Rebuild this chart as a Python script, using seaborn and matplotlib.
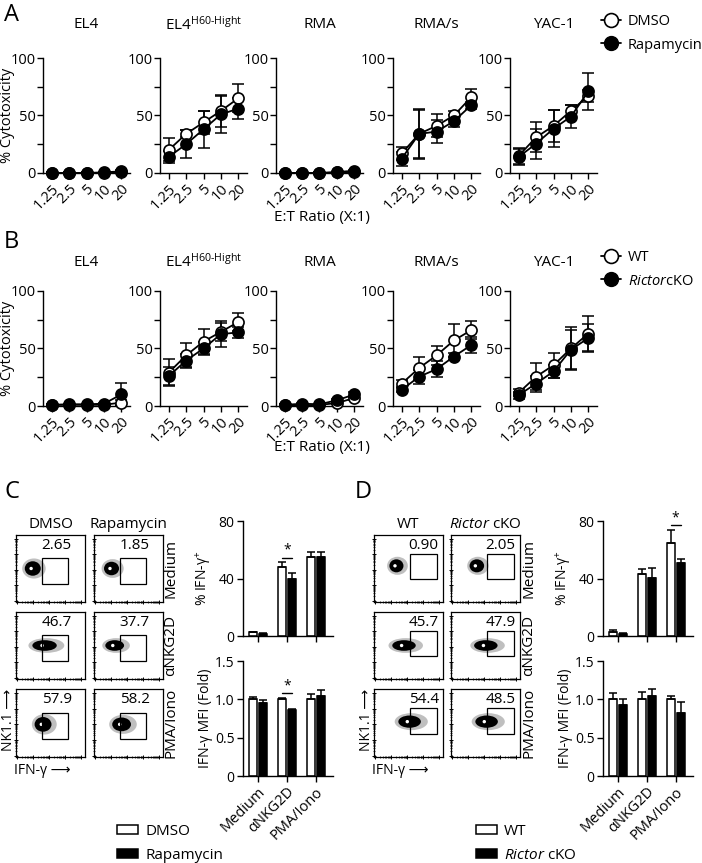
import numpy as np
import pandas as pd
import matplotlib
matplotlib.use("Agg")
import matplotlib.pyplot as plt
import seaborn as sns
from matplotlib.patches import Rectangle, Ellipse, Patch
from matplotlib.lines import Line2D

# ---------------- data ----------------
ratios = ["1.25", "2.5", "5", "10", "20"]
targets = ["EL4", r"EL4$^{\text{H60-Hight}}$", "RMA", "RMA/s", "YAC-1"]

# Panel A (DMSO open, Rapamycin filled); rows follow `targets`
a_dmso_mean = [[0, 0, 0, 0.3, 1], [20, 34, 44, 54, 65], [0, 0, 0, 0.5, 1],
               [17, 34, 41, 50, 66], [15, 31, 41, 54, 67]]
a_dmso_err = [[0.5, 0.5, 0.5, 0.5, 1], [10, 3, 10, 14, 12], [0.5, 0.5, 0.5, 0.5, 0.5],
              [6, 22, 10, 4, 7], [7, 13, 14, 5, 5]]
a_rapa_mean = [[0, 0, 0, 0.5, 1.5], [14, 25, 38, 51, 56], [0, 0, 0, 0.8, 2],
               [12.5, 34, 36, 45, 59], [14, 25.5, 38.5, 49, 71]]
a_rapa_err = [[0.5, 0.5, 0.5, 0.5, 1], [5, 12, 16, 16, 9], [0.5, 0.5, 0.5, 0.5, 1],
              [6, 21, 10, 5, 3], [7, 13, 16, 10, 16]]

# Panel B (WT open, Rictor cKO filled)
b_wt_mean = [[1, 1, 1, 1, 3], [29, 44, 56, 64.5, 73], [1, 0.5, 1, 2.5, 7],
             [19.5, 33, 44, 57, 66], [11.5, 25.5, 35.5, 50, 63]]
b_wt_err = [[0.5, 0.5, 0.5, 0.5, 2], [12, 11, 11, 8, 8], [0.5, 0.5, 0.5, 1, 2],
            [3, 10, 8, 14, 8], [3, 12, 11, 19, 15]]
b_ko_mean = [[1, 1.5, 1.5, 2, 10], [26, 39.5, 50, 62.5, 64], [1, 2, 1.5, 5, 10],
             [14, 25.5, 32, 43, 53], [9.5, 19.5, 30, 49, 59]]
b_ko_err = [[0.5, 0.5, 0.5, 0.5, 10], [8, 6, 6, 11, 5], [0.5, 0.5, 0.5, 1, 2],
            [2, 6, 7, 3, 7], [3, 7, 6, 17, 12]]

# Bar charts
stims = ["Medium", "αNKG2D", "PMA/Iono"]
c_ifng_dmso = [2.8, 48, 55]
c_ifng_dmso_err = [0.3, 3.5, 3.4]
c_ifng_rapa = [1.6, 39.7, 55]
c_ifng_rapa_err = [0.3, 4.1, 3.4]
c_mfi_dmso = [1.0, 1.0, 1.0]
c_mfi_dmso_err = [0.03, 0.02, 0.07]
c_mfi_rapa = [0.95, 0.86, 1.04]
c_mfi_rapa_err = [0.04, 0.01, 0.08]
d_ifng_wt = [2.5, 43, 64.7]
d_ifng_wt_err = [1.5, 3.6, 9]
d_ifng_ko = [1.5, 40.3, 50.8]
d_ifng_ko_err = [0.5, 6.7, 2.8]
d_mfi_wt = [1.0, 1.0, 1.0]
d_mfi_wt_err = [0.08, 0.1, 0.04]
d_mfi_ko = [0.93, 1.04, 0.82]
d_mfi_ko_err = [0.08, 0.1, 0.14]
# significance: (category index, bracket height)
c_ifng_star = (1, 54.5)
c_mfi_star = (1, 1.08)
d_ifng_star = (2, 77)

# Flow cytometry gate percentages (rows: stims, cols: groups)
c_flow_pct = [["2.65", "1.85"], ["46.7", "37.7"], ["57.9", "58.2"]]
d_flow_pct = [["0.90", "2.05"], ["45.7", "47.9"], ["54.4", "48.5"]]
# population centre / size (fraction of plot)
c_blob_x = [[0.26, 0.27], [0.44, 0.32], [0.41, 0.42]]
c_blob_y = [[0.50, 0.50], [0.50, 0.50], [0.48, 0.48]]
c_blob_w = [[0.34, 0.32], [0.52, 0.40], [0.36, 0.40]]
c_blob_h = [[0.30, 0.28], [0.22, 0.22], [0.30, 0.28]]
d_blob_x = [[0.34, 0.39], [0.46, 0.53], [0.54, 0.54]]
d_blob_y = [[0.54, 0.54], [0.50, 0.50], [0.52, 0.52]]
d_blob_w = [[0.30, 0.31], [0.50, 0.50], [0.48, 0.48]]
d_blob_h = [[0.27, 0.27], [0.22, 0.22], [0.25, 0.25]]
c_gate = (0.37, 0.27, 0.39, 0.38)   # x, y, w, h
d_gate = (0.52, 0.34, 0.40, 0.38)

# ---------------- style ----------------
sns.set_style("ticks")
plt.rcParams["font.family"] = ["Open Sans", "DejaVu Sans"]
plt.rcParams.update({
    "mathtext.fontset": "custom",
    "mathtext.rm": "Open Sans",
    "mathtext.it": "Open Sans:italic",
    "mathtext.bf": "Open Sans:bold",
    "mathtext.sf": "Open Sans",
    "font.size": 11,
    "axes.linewidth": 1.0,
    "axes.edgecolor": "black",
    "xtick.major.width": 1.0,
    "ytick.major.width": 1.0,
    "xtick.minor.width": 1.0,
    "ytick.minor.width": 1.0,
    "xtick.major.size": 4,
    "ytick.major.size": 4,
    "ytick.minor.size": 4,
    "xtick.labelsize": 10.5,
    "ytick.labelsize": 10.5,
    "xtick.color": "black",
    "ytick.color": "black",
    "text.color": "black",
    "axes.labelcolor": "black",
})

W, H = 702, 863
fig = plt.figure(figsize=(W / 100, H / 100), dpi=100)


def add_ax(x0, y0, x1, y1):
    return fig.add_axes([x0 / W, 1 - y1 / H, (x1 - x0) / W, (y1 - y0) / H])


def ftext(x, y, s, **kw):
    return fig.text(x / W, 1 - y / H, s, **kw)


# ---------------- panels A & B ----------------
line_x0 = [43, 160, 276, 393, 510]
line_w = 87


def line_row(top, bottom, title_y, xlab_y, m_open, e_open, m_fill, e_fill):
    pos = np.arange(len(ratios))
    for i, t in enumerate(targets):
        x0 = line_x0[i]
        ax = add_ax(x0, top, x0 + line_w, bottom)
        for mean, err, face in [(m_open[i], e_open[i], "white"), (m_fill[i], e_fill[i], "black")]:
            ax.errorbar(pos, mean, yerr=err, fmt="none", ecolor="black", elinewidth=1.1,
                        capsize=4.5, capthick=1.1, clip_on=False, zorder=2)
            sns.lineplot(x=pos, y=mean, ax=ax, color="black", lw=1.3, marker="o", markersize=8,
                         markerfacecolor=face, markeredgecolor="black", markeredgewidth=1.2,
                         errorbar=None, clip_on=False, zorder=3)
        ax.set_xlim(-0.5, 4.5)
        ax.set_ylim(0, 100)
        ax.set_yticks([0, 50, 100])
        ax.set_yticks([25, 75], minor=True)
        ax.tick_params(axis="y", which="minor", length=4)
        ax.set_xticks(pos)
        ax.set_xticklabels(ratios, rotation=45, ha="right", rotation_mode="anchor")
        ax.tick_params(axis="both", pad=2)
        ax.tick_params(axis="y", pad=1)
        sns.despine(ax=ax)
        ax.set_xlabel("")
        if i == 0:
            ax.set_ylabel("% Cytotoxicity", fontsize=10.5)
            ax.yaxis.set_label_coords((15 - x0) / line_w, 0.5)
        else:
            ax.set_ylabel("")
        ftext(x0 + line_w / 2, title_y, t, ha="center", va="center", fontsize=11)
    ftext(322, xlab_y, "E:T Ratio (X:1)", ha="center", va="center", fontsize=11)


line_row(58, 173, 25, 217, a_dmso_mean, a_dmso_err, a_rapa_mean, a_rapa_err)
line_row(291, 406, 262, 447, b_wt_mean, b_wt_err, b_ko_mean, b_ko_err)


def line_legend(y_center, labels):
    h_open = Line2D([], [], color="black", lw=1.3, marker="o", markersize=10,
                    markerfacecolor="white", markeredgecolor="black", markeredgewidth=1.2)
    h_fill = Line2D([], [], color="black", lw=1.3, marker="o", markersize=10,
                    markerfacecolor="black", markeredgecolor="black")
    fig.legend([h_open, h_fill], labels, loc="center left",
               bbox_to_anchor=(601 / W, 1 - y_center / H), frameon=False,
               handlelength=1.35, handletextpad=0.5, labelspacing=0.55,
               borderpad=0, borderaxespad=0, fontsize=10.5)


line_legend(33.5, ["DMSO", "Rapamycin"])
line_legend(269.5, ["WT", r"$\mathit{Rictor}$cKO"])

# ---------------- panels C & D: bar charts ----------------


def bar_chart(x0, y0, x1, y1, va, ea, vb, eb, names, ylim, yticks, yticklabels, ylabel,
              xlabels, star):
    ax = add_ax(x0, y0, x1, y1)
    df = pd.DataFrame({"stim": stims * 2,
                       "group": [names[0]] * 3 + [names[1]] * 3,
                       "val": va + vb})
    sns.barplot(data=df, x="stim", y="val", hue="group", hue_order=names,
                palette=["white", "black"], saturation=1, edgecolor="black",
                linewidth=1.1, width=0.68, gap=0.18, errorbar=None, legend=False, ax=ax)
    centers = {}
    for p in ax.patches:
        cx = p.get_x() + p.get_width() / 2
        h = p.get_height()
        ci = int(round(cx))
        g = 0 if cx < ci else 1
        e = [ea, eb][g][ci]
        centers[(ci, g)] = cx
        ax.errorbar([cx], [h], yerr=[[0], [e]], fmt="none", ecolor="black",
                    elinewidth=1.1, capsize=2.6, capthick=1.1, zorder=1)
    ax.set_ylim(*ylim)
    ax.set_xlim(-0.52, 2.6)
    ax.set_yticks(yticks)
    ax.set_yticklabels(yticklabels)
    ax.set_xticks(range(len(stims)))
    if xlabels:
        ax.set_xticklabels(stims, rotation=45, ha="right", rotation_mode="anchor")
    else:
        ax.set_xticklabels([])
    ax.tick_params(axis="both", pad=2)
    ax.tick_params(axis="y", labelsize=10)
    ax.set_xlabel("")
    ax.set_ylabel(ylabel, fontsize=10)
    ax.yaxis.set_label_coords(-30 / (x1 - x0), 0.5)
    sns.despine(ax=ax)
    if star is not None:
        ci, yb = star
        xa, xb = centers[(ci, 0)], centers[(ci, 1)]
        ax.plot([xa, xb], [yb, yb], color="black", lw=1.0)
        ax.text((xa + xb) / 2, yb, "*", ha="center", va="bottom", fontsize=10)
    return ax


bar_chart(243, 521, 333, 636, c_ifng_dmso, c_ifng_dmso_err, c_ifng_rapa, c_ifng_rapa_err,
          ["DMSO", "Rapamycin"], (0, 80), [0, 40, 80], ["0", "40", "80"],
          r"% IFN-γ$^{+}$", False, c_ifng_star)
bar_chart(243, 661, 333, 776, c_mfi_dmso, c_mfi_dmso_err, c_mfi_rapa, c_mfi_rapa_err,
          ["DMSO", "Rapamycin"], (0, 1.5), [0, 0.5, 1.0, 1.5], ["0", "0.5", "1.0", "1.5"],
          "IFN-γ MFI (Fold)", True, c_mfi_star)
bar_chart(603, 521, 693, 636, d_ifng_wt, d_ifng_wt_err, d_ifng_ko, d_ifng_ko_err,
          ["WT", "Rictor cKO"], (0, 80), [0, 40, 80], ["0", "40", "80"],
          r"% IFN-γ$^{+}$", False, d_ifng_star)
bar_chart(603, 661, 693, 776, d_mfi_wt, d_mfi_wt_err, d_mfi_ko, d_mfi_ko_err,
          ["WT", "Rictor cKO"], (0, 1.5), [0, 0.5, 1.0, 1.5], ["0", "0.5", "1.0", "1.5"],
          "IFN-γ MFI (Fold)", True, None)


def bar_legend(x, labels):
    handles = [Patch(facecolor="white", edgecolor="black", lw=1.1),
               Patch(facecolor="black", edgecolor="black", lw=1.1)]
    fig.legend(handles, labels, loc="center left", bbox_to_anchor=(x / W, 1 - 843.5 / H),
               frameon=False, handlelength=1.35, handleheight=0.5, labelspacing=0.6,
               handletextpad=0.5, borderpad=0, borderaxespad=0, fontsize=11)


bar_legend(117, ["DMSO", "Rapamycin"])
bar_legend(476, ["WT", r"$\mathit{Rictor}$ cKO"])

# ---------------- flow plots ----------------
flow_rows = [(535, 602), (612, 679), (689, 757)]
decade_starts = [0.02, 0.25, 0.48, 0.71]
flow_minor = [d + 0.23 * np.log10(k) for d in decade_starts for k in range(2, 10)]
flow_major = decade_starts + [0.94]


def flow_panel(cols, pct, bx, by, bw, bh, gate, num_x, headers, row_lab_x, nk_x, ifn_x):
    for r, (y0, y1) in enumerate(flow_rows):
        for c, (x0, x1) in enumerate(cols):
            ax = add_ax(x0, y0, x1, y1)
            ax.set_xlim(0, 1)
            ax.set_ylim(0, 1)
            cx, cy, w, h = bx[r][c], by[r][c], bw[r][c], bh[r][c]
            ax.add_patch(Ellipse((cx, cy), w, h, facecolor="0.55", edgecolor="none", alpha=0.55))
            ax.add_patch(Ellipse((cx - 0.05 * w, cy), w * 0.68, h * 0.72, facecolor="black",
                                 edgecolor="none"))
            ax.add_patch(Ellipse((cx - 0.12 * w, cy), 0.05, 0.05, facecolor="white",
                                 edgecolor="none"))
            gx, gy, gw, gh = gate
            ax.add_patch(Rectangle((gx, gy), gw, gh, fill=False, edgecolor="black", lw=0.9))
            ax.text(num_x, 0.85, pct[r][c], ha="center", va="center", fontsize=11)
            ax.set_xticks(flow_major)
            ax.set_yticks(flow_major)
            ax.set_xticks(flow_minor, minor=True)
            ax.set_yticks(flow_minor, minor=True)
            ax.set_xticklabels([])
            ax.set_yticklabels([])
            ax.tick_params(which="major", direction="inout", length=3.5, width=0.7)
            ax.tick_params(which="minor", direction="inout", length=2, width=0.5)
            for s in ax.spines.values():
                s.set_linewidth(0.9)
            if r == 0:
                ax.text(0.5, 1.04, headers[c], ha="center", va="bottom", fontsize=11,
                        transform=ax.transAxes)
        ftext(row_lab_x, (y0 + y1) / 2, stims[r], rotation=90, ha="center", va="center",
              fontsize=11)
    ftext(nk_x, 720, "NK1.1 ⟶", rotation=90, ha="center", va="center", fontsize=10)
    ftext(ifn_x, 770, "IFN-γ ⟶", ha="center", va="center", fontsize=10)


flow_panel([(16, 85), (94, 163)], c_flow_pct, c_blob_x, c_blob_y, c_blob_w, c_blob_h,
           c_gate, 0.59, ["DMSO", "Rapamycin"], 171, 9, 42)
flow_panel([(374, 443), (451, 520)], d_flow_pct, d_blob_x, d_blob_y, d_blob_w, d_blob_h,
           d_gate, 0.72, ["WT", r"$\mathit{Rictor}$ cKO"], 529, 366, 400)

# ---------------- panel letters ----------------
ftext(4, 15, "A", fontsize=17, va="center", ha="left")
ftext(4, 242, "B", fontsize=17, va="center", ha="left")
ftext(4, 492, "C", fontsize=17, va="center", ha="left")
ftext(355, 492, "D", fontsize=17, va="center", ha="left")

fig.savefig("out.png", dpi=100)
